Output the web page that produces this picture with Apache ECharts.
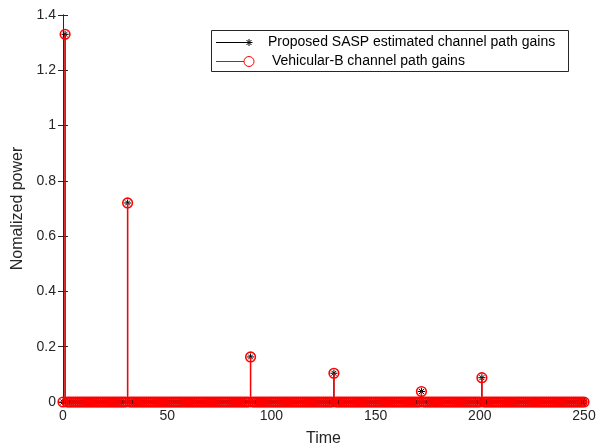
<!DOCTYPE html>
<html>
<head>
<meta charset="utf-8">
<script src="https://cdn.jsdelivr.net/npm/echarts@6/dist/echarts.min.js"></script>
<style>html,body{margin:0;padding:0;background:#fff;overflow:hidden}#c{width:601px;height:446px}</style>
</head>
<body>
<div id="c"></div>
<script>
// Sample index (Time) = position in arrays, 0..250
const estimatedGains = [
  0, 1.33, 0, 0, 0, 0, 0, 0, 0, 0,
  0, 0, 0, 0, 0, 0, 0, 0, 0, 0,
  0, 0, 0, 0, 0, 0, 0, 0, 0, 0,
  0, 0.72, 0, 0, 0, 0, 0, 0, 0, 0,
  0, 0, 0, 0, 0, 0, 0, 0, 0, 0,
  0, 0, 0, 0, 0, 0, 0, 0, 0, 0,
  0, 0, 0, 0, 0, 0, 0, 0, 0, 0,
  0, 0, 0, 0, 0, 0, 0, 0, 0, 0,
  0, 0, 0, 0, 0, 0, 0, 0, 0, 0,
  0.163, 0, 0, 0, 0, 0, 0, 0, 0, 0,
  0, 0, 0, 0, 0, 0, 0, 0, 0, 0,
  0, 0, 0, 0, 0, 0, 0, 0, 0, 0,
  0, 0, 0, 0, 0, 0, 0, 0, 0, 0,
  0.104, 0, 0, 0, 0, 0, 0, 0, 0, 0,
  0, 0, 0, 0, 0, 0, 0, 0, 0, 0,
  0, 0, 0, 0, 0, 0, 0, 0, 0, 0,
  0, 0, 0, 0, 0, 0, 0, 0, 0, 0,
  0, 0, 0.038, 0, 0, 0, 0, 0, 0, 0,
  0, 0, 0, 0, 0, 0, 0, 0, 0, 0,
  0, 0, 0, 0, 0, 0, 0, 0, 0, 0,
  0, 0.088, 0, 0, 0, 0, 0, 0, 0, 0,
  0, 0, 0, 0, 0, 0, 0, 0, 0, 0,
  0, 0, 0, 0, 0, 0, 0, 0, 0, 0,
  0, 0, 0, 0, 0, 0, 0, 0, 0, 0,
  0, 0, 0, 0, 0, 0, 0, 0, 0, 0,
  0
];
const vehicularBGains = [
  0, 1.33, 0, 0, 0, 0, 0, 0, 0, 0,
  0, 0, 0, 0, 0, 0, 0, 0, 0, 0,
  0, 0, 0, 0, 0, 0, 0, 0, 0, 0,
  0, 0.72, 0, 0, 0, 0, 0, 0, 0, 0,
  0, 0, 0, 0, 0, 0, 0, 0, 0, 0,
  0, 0, 0, 0, 0, 0, 0, 0, 0, 0,
  0, 0, 0, 0, 0, 0, 0, 0, 0, 0,
  0, 0, 0, 0, 0, 0, 0, 0, 0, 0,
  0, 0, 0, 0, 0, 0, 0, 0, 0, 0,
  0.163, 0, 0, 0, 0, 0, 0, 0, 0, 0,
  0, 0, 0, 0, 0, 0, 0, 0, 0, 0,
  0, 0, 0, 0, 0, 0, 0, 0, 0, 0,
  0, 0, 0, 0, 0, 0, 0, 0, 0, 0,
  0.104, 0, 0, 0, 0, 0, 0, 0, 0, 0,
  0, 0, 0, 0, 0, 0, 0, 0, 0, 0,
  0, 0, 0, 0, 0, 0, 0, 0, 0, 0,
  0, 0, 0, 0, 0, 0, 0, 0, 0, 0,
  0, 0, 0.038, 0, 0, 0, 0, 0, 0, 0,
  0, 0, 0, 0, 0, 0, 0, 0, 0, 0,
  0, 0, 0, 0, 0, 0, 0, 0, 0, 0,
  0, 0.088, 0, 0, 0, 0, 0, 0, 0, 0,
  0, 0, 0, 0, 0, 0, 0, 0, 0, 0,
  0, 0, 0, 0, 0, 0, 0, 0, 0, 0,
  0, 0, 0, 0, 0, 0, 0, 0, 0, 0,
  0, 0, 0, 0, 0, 0, 0, 0, 0, 0,
  0
];
const seriesNames = ['Proposed SASP estimated channel path gains', ' Vehicular-B channel path gains'];
const xTicks = [0, 50, 100, 150, 200, 250];
const yTicks = [0, 0.2, 0.4, 0.6, 0.8, 1, 1.2, 1.4];

const FONT = '"Liberation Sans", Arial, sans-serif';
const TXT = '#262626';

function asterisk(cx, cy, r, color) {
  const d = r * 0.7071;
  const seg = (x1, y1, x2, y2) => ({type: 'line', shape: {x1: cx + x1, y1: cy + y1, x2: cx + x2, y2: cy + y2}, style: {stroke: color, lineWidth: 1}});
  return [seg(-r, 0, r, 0), seg(0, -r, 0, r), seg(-d, -d, d, d), seg(-d, d, d, -d)];
}

function stemRender(kind) {
  return function (params, api) {
    const x = api.value(0), y = api.value(1);
    const p0 = api.coord([x, 0]);
    const p1 = api.coord([x, y]);
    const color = kind === 'star' ? '#000000' : '#ff0000';
    const children = [];
    if (y !== 0) {
      children.push({type: 'line', shape: {x1: p0[0], y1: p0[1], x2: p1[0], y2: p1[1]}, style: {stroke: color, lineWidth: kind === 'star' ? 1 : 1.5}});
    }
    if (kind === 'star') {
      children.push(...asterisk(p1[0], p1[1], 3.5, color));
    } else {
      children.push({type: 'circle', shape: {cx: p1[0], cy: p1[1], r: 4.8}, style: {stroke: color, fill: null, lineWidth: 1.6}});
    }
    return {type: 'group', children};
  };
}

const el = document.getElementById('c');
const chart = echarts.init(el, null, {renderer: 'canvas'});
const axisLine = {show: true, lineStyle: {color: TXT, width: 1}};
const tick = {show: true, inside: true, length: 5, lineStyle: {color: TXT}};
const label = {color: TXT, fontFamily: FONT, fontSize: 14};

const legendGraphics = [
  {type: 'rect', shape: {x: 211.5, y: 30.5, width: 357, height: 41}, style: {fill: '#fff', stroke: TXT, lineWidth: 1}, z: 100},
  {type: 'line', shape: {x1: 216, y1: 42.5, x2: 248, y2: 42.5}, style: {stroke: '#000', lineWidth: 1}, z: 101},
  ...asterisk(249, 42.5, 3.5, '#000').map(e => Object.assign(e, {z: 101})),
  {type: 'text', x: 268, y: 42.5, style: {text: seriesNames[0], fill: '#000', font: '14px ' + FONT, textVerticalAlign: 'middle', verticalAlign: 'middle'}, z: 101},
  {type: 'line', shape: {x1: 216, y1: 61.5, x2: 244, y2: 61.5}, style: {stroke: '#ff0000', lineWidth: 1}, z: 101},
  {type: 'circle', shape: {cx: 249, cy: 61.5, r: 5}, style: {stroke: '#ff0000', fill: null, lineWidth: 1}, z: 101},
  {type: 'text', x: 268, y: 61.5, style: {text: seriesNames[1], fill: '#000', font: '14px ' + FONT, textVerticalAlign: 'middle', verticalAlign: 'middle'}, z: 101}
];

chart.setOption({
  animation: false,
  backgroundColor: '#fff',
  grid: {left: 63, right: 17, top: 15, bottom: 44, containLabel: false, outerBoundsMode: 'none'},
  xAxis: [
    {type: 'value', min: xTicks[0], max: xTicks[xTicks.length - 1], interval: 50, position: 'bottom',
     name: 'Time', nameLocation: 'middle', nameGap: 29, nameTextStyle: {color: TXT, fontFamily: FONT, fontSize: 16},
     axisLine, axisTick: tick, axisLabel: Object.assign({margin: 7}, label), splitLine: {show: false}},
    {type: 'value', min: xTicks[0], max: xTicks[xTicks.length - 1], interval: 50, position: 'top',
     axisLine, axisTick: tick, axisLabel: {show: false}, splitLine: {show: false}}
  ],
  yAxis: [
    {type: 'value', min: yTicks[0], max: yTicks[yTicks.length - 1], interval: 0.2, position: 'left',
     name: 'Nomalized power', nameLocation: 'middle', nameGap: 30, nameTextStyle: {color: TXT, fontFamily: FONT, fontSize: 16},
     axisLine, axisTick: tick, axisLabel: Object.assign({margin: 7, formatter: v => String(+v.toFixed(1))}, label), splitLine: {show: false}},
    {type: 'value', min: yTicks[0], max: yTicks[yTicks.length - 1], interval: 0.2, position: 'right',
     axisLine, axisTick: tick, axisLabel: {show: false}, splitLine: {show: false}}
  ],
  series: [
    {name: seriesNames[0], type: 'custom', xAxisIndex: 0, yAxisIndex: 0, clip: false,
     renderItem: stemRender('star'), data: estimatedGains.map((v, i) => [i, v]), z: 3},
    {name: seriesNames[1], type: 'custom', xAxisIndex: 0, yAxisIndex: 0, clip: false,
     renderItem: stemRender('circle'), data: vehicularBGains.map((v, i) => [i, v]), z: 4}
  ],
  graphic: legendGraphics
});
</script>
</body>
</html>
